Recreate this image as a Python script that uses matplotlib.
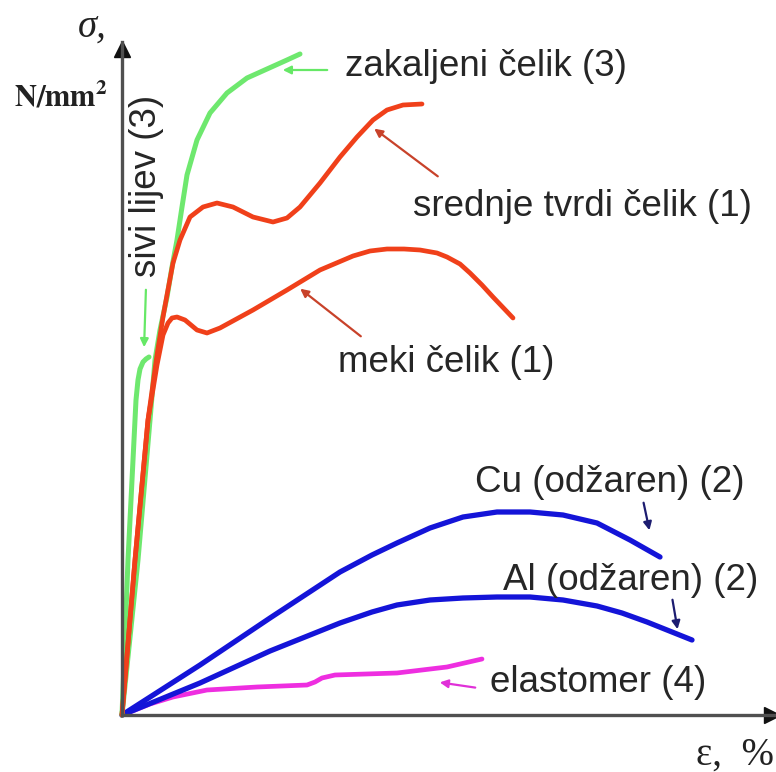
import numpy as np
import matplotlib
matplotlib.use("Agg")
import matplotlib.pyplot as plt

# curves: strain (x) and stress (y), origin at the axes corner
zak_eps = [0, 16, 28, 33, 38, 45, 50, 55, 60, 65, 75, 88, 105, 125, 145, 165, 178]
zak_sig = [0, 155, 295, 355, 385, 418, 448, 475, 508, 540, 575, 602, 622, 637, 646, 655, 661]

sivi_eps = [0, 6, 11, 14, 16, 18, 21, 24, 27]
sivi_sig = [0, 155, 255, 315, 335, 346, 353, 356, 358]

sred_eps = [0, 13, 26, 35, 41, 45, 51, 58, 68, 81, 95, 111, 131, 151, 165, 178, 198, 218, 235, 251, 265, 281, 300]
sred_sig = [0, 155, 295, 360, 398, 420, 452, 475, 498, 508, 512, 508, 498, 493, 497, 508, 532, 558, 578, 595, 605, 610, 611]

meki_eps = [0, 13, 26, 35, 41, 46, 50, 55, 63, 75, 85, 98, 131, 165, 198, 231, 248, 265, 282, 298, 315, 325, 338, 348, 360, 371, 391]
meki_sig = [0, 155, 295, 350, 380, 392, 397, 398, 395, 385, 382, 387, 405, 425, 445, 459, 464, 466, 466, 465, 462, 458, 451, 442, 430, 418, 397]

cu_eps = [0, 78, 148, 218, 250, 275, 308, 341, 375, 408, 441, 475, 508, 538]
cu_sig = [0, 50, 97, 143, 160, 172, 187, 198, 203, 203, 200, 192, 175, 158]

al_eps = [0, 78, 148, 218, 250, 275, 308, 341, 375, 408, 441, 475, 500, 525, 550, 570]
al_sig = [0, 32, 64, 92, 103, 110, 115, 117, 118, 118, 115, 109, 102, 93, 83, 75]

ela_eps = [0, 13, 28, 51, 85, 135, 185, 193, 200, 213, 275, 325, 360]
ela_sig = [0, 5, 11, 18, 25, 28, 30, 33, 37, 40, 42, 48, 56]

# labels: text, left x, centre y
labels = [
    ("zakaljeni čelik (3)", 223, 648),
    ("srednje tvrdi čelik (1)", 291, 508),
    ("meki čelik (1)", 216, 352),
    ("Cu (odžaren) (2)", 353, 232),
    ("Al (odžaren) (2)", 381, 134),
    ("elastomer (4)", 368, 32),
]

# pointer arrows: (tail, head, colour)
pointers = [
    ((208, 645), (158, 645), "#66e866"),
    ((318, 537), (250, 588), "#c8422a"),
    ((241, 377), (176, 428), "#c8422a"),
    ((521, 215), (528, 182), "#1c1c70"),
    ((550, 118), (556, 83), "#1c1c70"),
    ((356, 27), (315, 33), "#e030d8"),
    ((24, 428), (22, 365), "#66e866"),
]

fig = plt.figure(figsize=(7.76, 7.72), dpi=100)
ax = fig.add_axes([122 / 776, 57 / 772, 653 / 776, 673 / 772])
ax.set_xlim(0, 653)
ax.set_ylim(0, 673)
for s in ["top", "right"]:
    ax.spines[s].set_visible(False)
for s in ["left", "bottom"]:
    ax.spines[s].set_color("#505050")
    ax.spines[s].set_linewidth(2.4)
ax.set_xticks([])
ax.set_yticks([])

# axis arrow heads
ax.plot([0], [666], marker="^", ms=11, color="#111111", clip_on=False)
ax.plot([650], [0], marker=">", ms=11, color="#111111", clip_on=False)

green = "#6ee86e"
red = "#f0401a"
blue = "#1414d8"
mag = "#ee2ee0"
kw = dict(solid_capstyle="round", solid_joinstyle="round", clip_on=False)

ax.plot(ela_eps, ela_sig, color=mag, lw=3.4, **kw)
ax.plot(al_eps, al_sig, color=blue, lw=3.8, **kw)
ax.plot(cu_eps, cu_sig, color=blue, lw=3.8, **kw)
ax.plot(zak_eps, zak_sig, color=green, lw=3.6, **kw)
ax.plot(sivi_eps, sivi_sig, color=green, lw=3.6, **kw)
ax.plot(meki_eps, meki_sig, color=red, lw=3.4, **kw)
ax.plot(sred_eps, sred_sig, color=red, lw=3.4, **kw)

for tail, head, c in pointers:
    ax.annotate("", xy=head, xytext=tail,
                arrowprops=dict(arrowstyle="-|>", color=c, lw=1.6, mutation_scale=12))

font = "Liberation Sans"
for txt, x, y in labels:
    ax.text(x, y, txt, fontsize=26.5, family=font, color="#262626",
            ha="left", va="center")
ax.text(25, 529, "sivi lijev (3)", fontsize=26.5, family=font, color="#262626",
        rotation=90, ha="center", va="center")

# axis titles
ax.text(-44, 688, "σ,", fontsize=28, family="Liberation Serif", style="italic",
        color="#222222", ha="left", va="center", clip_on=False)
plt.rcParams["mathtext.fontset"] = "stix"
ax.text(-14, 608, r"$\mathbf{N/mm^{2}}$", fontsize=22, color="#222222",
        ha="right", va="baseline", clip_on=False)
ax.text(652, -40, "ε,  %", fontsize=28, family="Liberation Serif",
        color="#222222", ha="right", va="center", clip_on=False)

fig.savefig("out.png", dpi=100)
